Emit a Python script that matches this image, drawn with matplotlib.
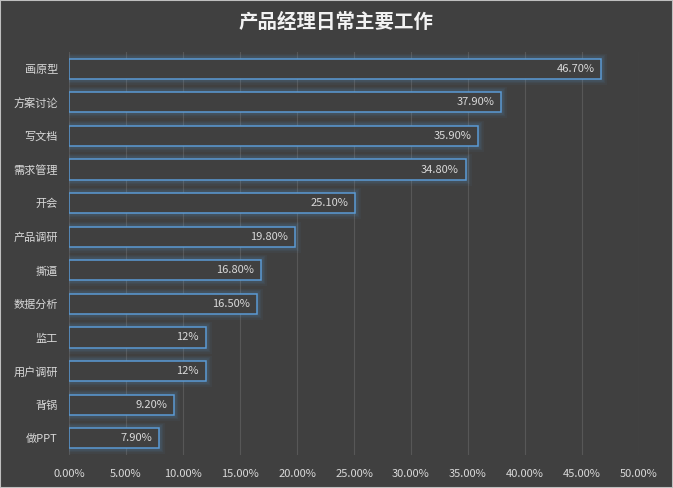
import matplotlib.pyplot as plt
import matplotlib.patches as mpatches
from matplotlib.ticker import FuncFormatter, MultipleLocator

plt.rcParams['font.family'] = ['Noto Sans CJK SC', 'DejaVu Sans']

tasks = ['画原型', '方案讨论', '写文档', '需求管理', '开会', '产品调研',
         '撕逼', '数据分析', '监工', '用户调研', '背锅', '做PPT']
shares = [46.7, 37.9, 35.9, 34.8, 25.1, 19.8, 16.8, 16.5, 12.0, 12.0, 9.2, 7.9]
value_labels = ['46.70%', '37.90%', '35.90%', '34.80%', '25.10%', '19.80%',
                '16.80%', '16.50%', '12%', '12%', '9.20%', '7.90%']

bg = '#404040'
txt = '#d9d9d9'
edge = '#5b9bd5'

fig = plt.figure(figsize=(6.73, 4.88), dpi=100, facecolor=bg)
fig.patches.append(mpatches.Rectangle((0, 0), 1, 1, transform=fig.transFigure,
                                      fill=False, edgecolor='#bfbfbf', linewidth=1.5))
ax = fig.add_axes([69 / 673, 33 / 488, 570 / 673, 403 / 488])
ax.set_facecolor(bg)

y = list(range(len(tasks)))

# soft glow outside the outline
for lw, a in [(8, 0.05), (6, 0.07), (4, 0.1)]:
    ax.barh(y, shares, height=0.6, left=0, color='none',
            edgecolor=edge, linewidth=lw, alpha=a, zorder=2)
# bar with background fill so gridlines are hidden inside
ax.barh(y, shares, height=0.6, color=bg, edgecolor=edge, linewidth=1.1, zorder=3)

for yi, v, lab in zip(y, shares, value_labels):
    ax.annotate(lab, (v, yi), xytext=(-5, 0), textcoords='offset points',
                ha='right', va='center', color=txt, fontsize=8, zorder=4)

ax.set_xlim(0, 50)
ax.set_ylim(len(tasks) - 0.5, -0.5)
ax.xaxis.set_major_locator(MultipleLocator(5))
ax.xaxis.set_major_formatter(FuncFormatter(lambda v, p: f'{v:.2f}%'))
ax.set_yticks(y)
ax.set_yticklabels(tasks)
ax.tick_params(axis='both', length=0, colors=txt, labelsize=8)
ax.tick_params(axis='y', pad=8)
ax.tick_params(axis='x', pad=10)
ax.grid(axis='x', color='#575757', linewidth=0.8, zorder=0)
ax.set_axisbelow(True)
for s in ax.spines.values():
    s.set_visible(False)

fig.text(0.5, 1 - 22 / 488, '产品经理日常主要工作', ha='center', va='center',
         color='#f2f2f2', fontsize=14, fontweight='bold')

fig.savefig('out.png', dpi=100, facecolor=bg)
